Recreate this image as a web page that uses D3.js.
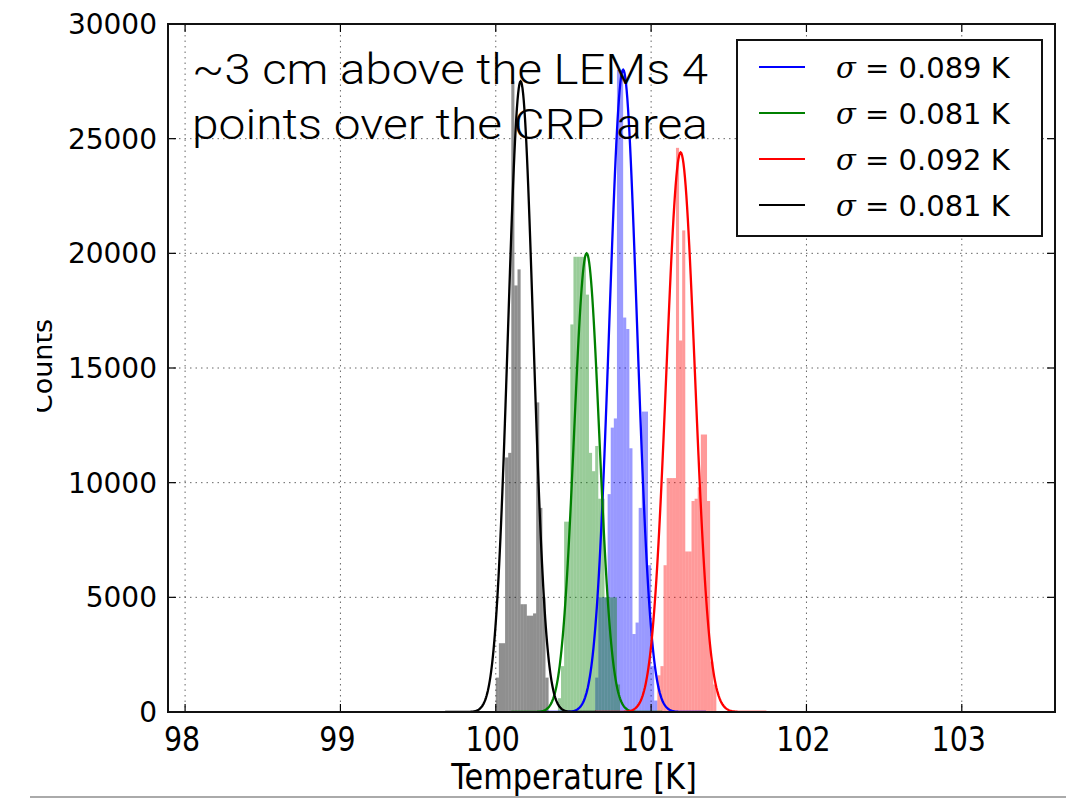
<!DOCTYPE html>
<html>
<head>
<meta charset="utf-8">
<script src="https://cdn.jsdelivr.net/npm/d3@7"></script>
<style>
  body { margin: 0; background: #fff; }
  svg { display: block; }
</style>
</head>
<body>
<div id="chart"></div>
<script>
// CONSTANTS
const WIDTH = 1066;
const HEIGHT = 799;
const PLOT = { left: 168, right: 1055, top: 24, bottom: 712 };

// DATA
const seriesLabels = ["0.089", "0.081", "0.092", "0.081"];
const seriesColors = ["#0000ff", "#008000", "#ff0000", "#000000"];
const fitMeans = [100.82, 100.585, 101.19, 100.16];
const fitSigmas = [0.089, 0.081, 0.092, 0.081];
const fitPeaks = [28000, 20000, 24400, 27500];

const binWidth = 0.02;
const histStarts = [100.64, 100.40, 101.04, 100.00];
const blueCounts = [1500, 5000, 5000, 5000, 9500, 12400, 12800, 28000, 27800, 17200,
                    16700, 11500, 3400, 3900, 8900, 13100, 13100, 6400, 2000, 500];
const greenCounts = [600, 2000, 8300, 8300, 16900, 19850, 19850, 19850, 19850, 18200,
                     11300, 10500, 11600, 9300, 9300, 5000, 5000, 5000, 5000, 1200];
const redCounts = [1600, 2000, 6400, 10200, 10200, 10200, 24600, 16200, 21000, 7000,
                   7000, 9200, 9300, 9800, 12100, 12100, 9200, 2200, 1200];
const blackCounts = [1500, 3000, 3000, 11100, 11300, 27500, 18600, 19300, 4700, 4700,
                     4200, 4200, 4300, 13500, 8900, 5000, 1500];
const histCounts = [blueCounts, greenCounts, redCounts, blackCounts];

const xTicks = [98, 99, 100, 101, 102, 103];
const yTicks = [0, 5000, 10000, 15000, 20000, 25000, 30000];
const xDomain = [97.89, 103.6];
const yDomain = [0, 30000];
const annotationLines = ["~3 cm above the LEMs 4", "points over the CRP area"];

const svg = d3.select("#chart")
  .append("svg")
  .attr("width", WIDTH)
  .attr("height", HEIGHT);

const x = d3.scaleLinear().domain(xDomain).range([PLOT.left, PLOT.right]);
const y = d3.scaleLinear().domain(yDomain).range([PLOT.bottom, PLOT.top]);

const defs = svg.append("defs");
defs.append("clipPath").attr("id", "plot-clip")
  .append("rect")
  .attr("x", PLOT.left).attr("y", PLOT.top)
  .attr("width", PLOT.right - PLOT.left).attr("height", PLOT.bottom - PLOT.top);
defs.append("clipPath").attr("id", "label-clip")
  .append("rect").attr("x", 37).attr("y", 0).attr("width", 200).attr("height", HEIGHT);

// grid
const grid = svg.append("g")
  .attr("stroke", "#000")
  .attr("stroke-opacity", 0.6)
  .attr("stroke-width", 1)
  .attr("stroke-dasharray", "1.5,4");
grid.selectAll("line.gx").data(xTicks).enter().append("line")
  .attr("x1", d => x(d)).attr("x2", d => x(d))
  .attr("y1", PLOT.top).attr("y2", PLOT.bottom);
grid.selectAll("line.gy").data(yTicks.slice(1, -1)).enter().append("line")
  .attr("x1", PLOT.left).attr("x2", PLOT.right)
  .attr("y1", d => y(d)).attr("y2", d => y(d));

// histograms
const plotG = svg.append("g").attr("clip-path", "url(#plot-clip)");
histCounts.forEach((counts, i) => {
  plotG.append("g")
    .attr("fill", seriesColors[i])
    .attr("fill-opacity", i === 3 ? 0.44 : 0.4)
    .selectAll("rect")
    .data(counts)
    .enter()
    .append("rect")
    .attr("x", (d, j) => x(histStarts[i] + j * binWidth))
    .attr("width", x(binWidth) - x(0))
    .attr("y", d => y(d))
    .attr("height", d => y(0) - y(d));
});

// gaussian fits
const line = d3.line().x(d => x(d[0])).y(d => y(d[1]));
fitMeans.forEach((mu, i) => {
  const s = fitSigmas[i];
  const pts = d3.range(-6, 6.01, 0.05).map(k => [mu + k * s, fitPeaks[i] * Math.exp(-0.5 * k * k)]);
  plotG.append("path")
    .attr("d", line(pts))
    .attr("fill", "none")
    .attr("stroke", seriesColors[i])
    .attr("stroke-width", 2.3);
});

// ticks (inside, all four sides)
const ticks = svg.append("g").attr("stroke", "#000").attr("stroke-width", 1.2);
xTicks.forEach(t => {
  ticks.append("line").attr("x1", x(t)).attr("x2", x(t)).attr("y1", PLOT.bottom).attr("y2", PLOT.bottom - 8);
  ticks.append("line").attr("x1", x(t)).attr("x2", x(t)).attr("y1", PLOT.top).attr("y2", PLOT.top + 8);
});
yTicks.forEach(t => {
  ticks.append("line").attr("x1", PLOT.left).attr("x2", PLOT.left + 8).attr("y1", y(t)).attr("y2", y(t));
  ticks.append("line").attr("x1", PLOT.right).attr("x2", PLOT.right - 8).attr("y1", y(t)).attr("y2", y(t));
});

// frame
svg.append("rect")
  .attr("x", PLOT.left).attr("y", PLOT.top)
  .attr("width", PLOT.right - PLOT.left).attr("height", PLOT.bottom - PLOT.top)
  .attr("fill", "none").attr("stroke", "#111").attr("stroke-width", 2);

// tick labels
svg.append("g")
  .attr("font-family", "DejaVu Sans")
  .attr("font-size", 28)
  .attr("text-anchor", "end")
  .selectAll("text").data(yTicks).enter().append("text")
  .attr("x", 157).attr("y", d => y(d) + 10)
  .text(d => d);

svg.append("g")
  .attr("font-family", "DejaVu Sans")
  .attr("font-size", 30)
  .attr("text-anchor", "middle")
  .selectAll("text").data(xTicks).enter().append("text")
  .attr("transform", d => `translate(${x(d) - 3},751) scale(0.95,1.15)`)
  .text(d => d);

svg.append("text")
  .attr("font-family", "DejaVu Sans")
  .attr("font-size", 31)
  .attr("text-anchor", "middle")
  .attr("transform", "translate(574,789) scale(0.98,1.15)")
  .text("Temperature [K]");

svg.append("g")
  .attr("clip-path", "url(#label-clip)")
  .append("text")
  .attr("font-family", "DejaVu Sans")
  .attr("font-size", 27)
  .attr("text-anchor", "middle")
  .attr("transform", "translate(52,366) rotate(-90)")
  .text("Counts");

// annotation
const ann = svg.append("g")
  .attr("font-family", "Roboto")
  .attr("font-weight", 300)
  .attr("font-size", 42)
  .attr("fill", "#000");
annotationLines.forEach((t, i) => {
  ann.append("text")
    .attr("x", 192).attr("y", 84 + i * 55)
    .attr("textLength", 516)
    .attr("lengthAdjust", "spacingAndGlyphs")
    .text(t);
});

// legend
const lg = svg.append("g");
lg.append("rect")
  .attr("x", 737).attr("y", 40).attr("width", 305).attr("height", 196)
  .attr("fill", "#fff").attr("stroke", "#111").attr("stroke-width", 2);
seriesLabels.forEach((lab, i) => {
  const yy = 67 + i * 46;
  lg.append("line")
    .attr("x1", 759).attr("x2", 805).attr("y1", yy).attr("y2", yy)
    .attr("stroke", seriesColors[i]).attr("stroke-width", 2);
  const t = lg.append("text")
    .attr("x", 836).attr("y", yy + 11)
    .attr("font-size", 29)
    .attr("font-family", "DejaVu Sans");
  t.append("tspan").attr("font-family", "DejaVu Serif").attr("font-style", "italic").text("σ");
  t.append("tspan").text(` = ${lab} K`);
});

// bottom rule
svg.append("line")
  .attr("x1", 30).attr("x2", WIDTH).attr("y1", 797).attr("y2", 797)
  .attr("stroke", "#aaa").attr("stroke-width", 2);
</script>
</body>
</html>
